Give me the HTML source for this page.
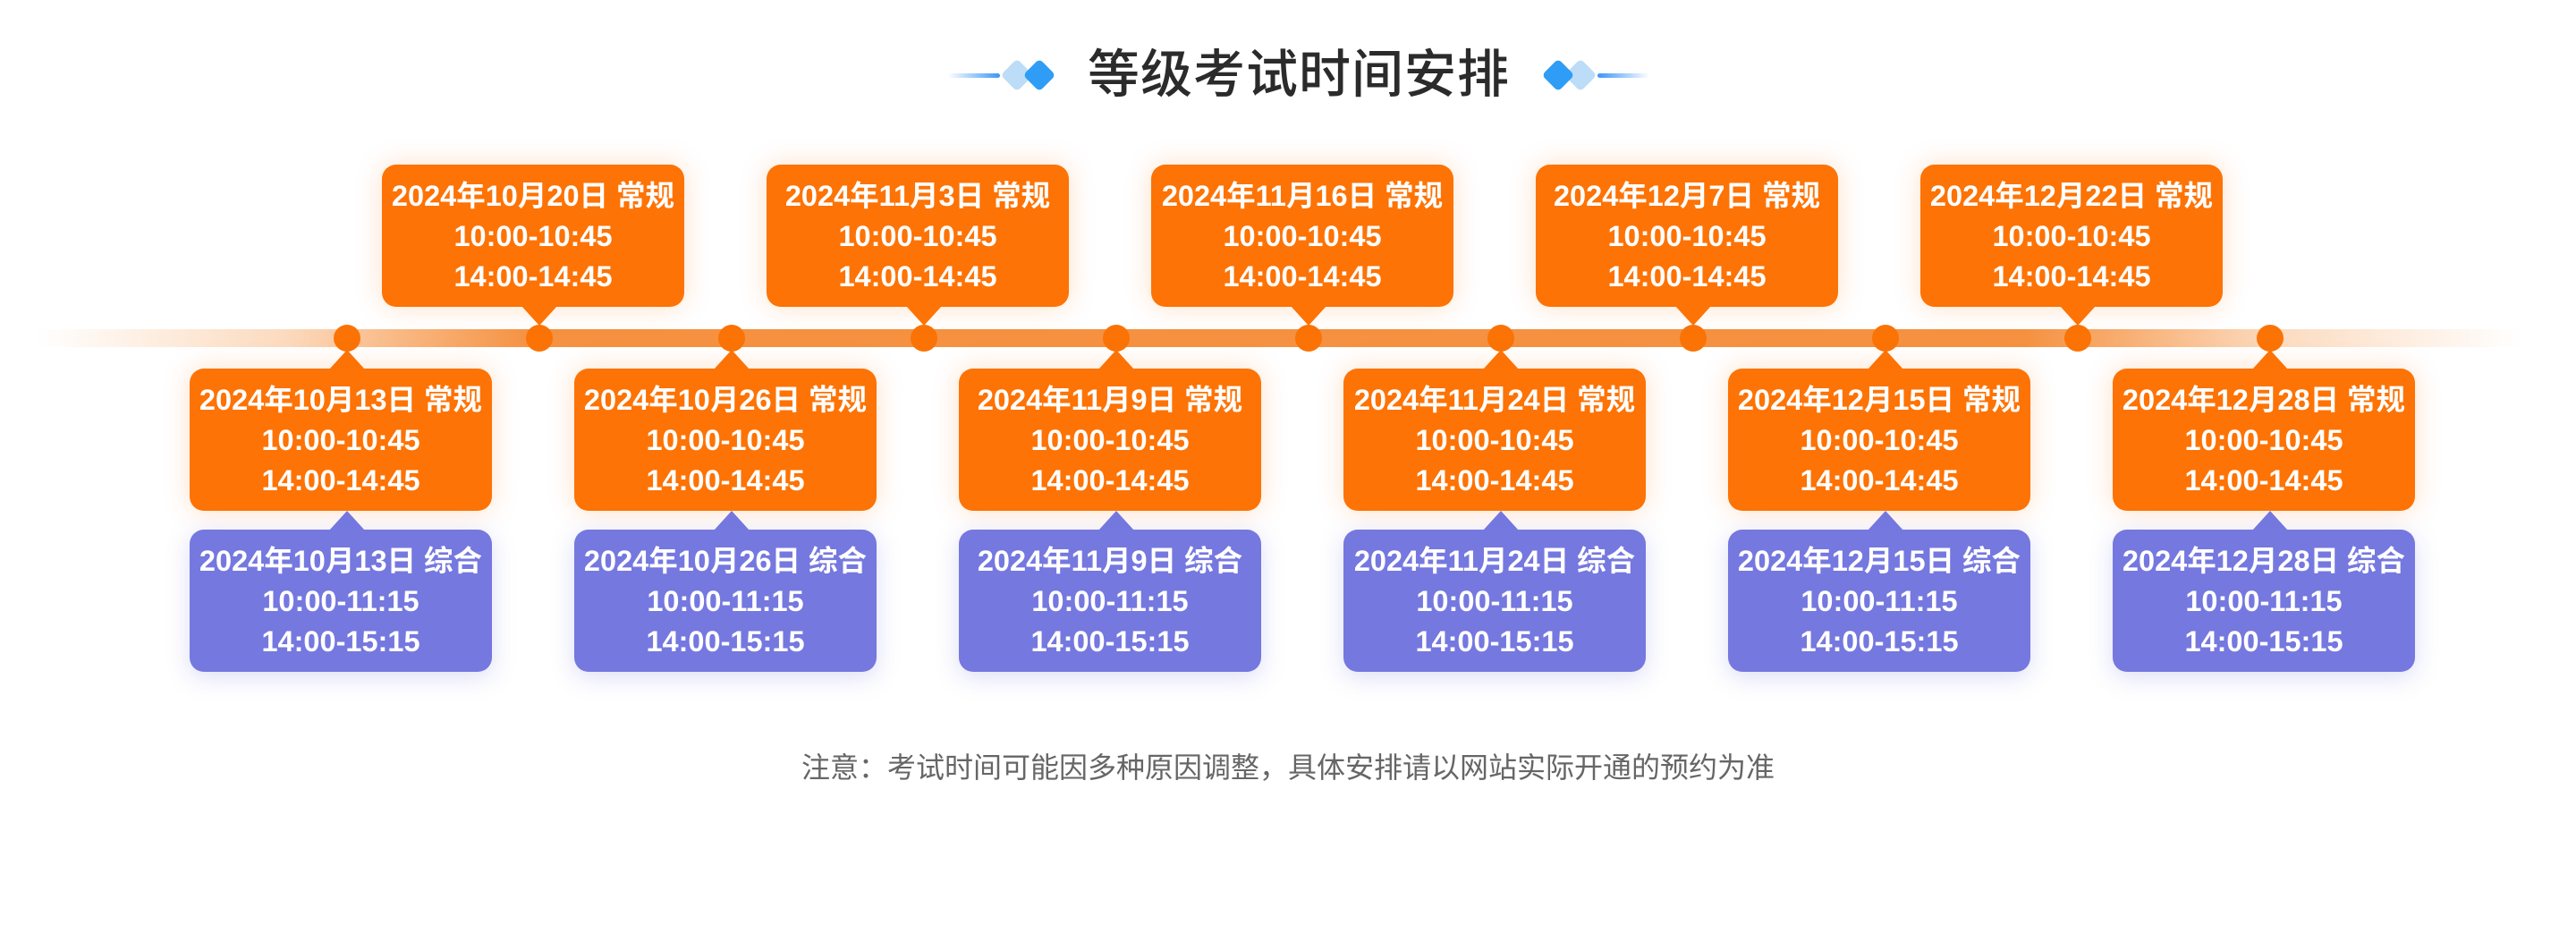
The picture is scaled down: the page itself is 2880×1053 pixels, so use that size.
<!DOCTYPE html>
<html><head><meta charset="utf-8"><style>
*{margin:0;padding:0;box-sizing:border-box}
body{width:2880px;height:1053px;background:#fff;position:relative;overflow:hidden;font-family:"Liberation Sans","Noto Sans CJK SC",sans-serif}
.t{position:absolute;left:0;top:55px;width:2904px;text-align:center;font-size:58px;font-weight:500;color:#2b2b2b;line-height:58px;letter-spacing:1px}
.ln{position:absolute;height:5px;top:82px;width:58px;border-radius:3px}
.dm{position:absolute;border-radius:5px;transform:rotate(45deg)}
.bar{position:absolute;left:40px;width:2780px;top:368px;height:20px;background:linear-gradient(90deg,rgba(246,150,70,0) 0%,rgba(246,150,70,.35) 10%,#f59140 20%,#f59140 80%,rgba(246,150,70,.35) 90%,rgba(246,150,70,0) 100%)}
.dot{position:absolute;top:363px;width:30px;height:30px;border-radius:50%;background:#fb7305}
.b{position:absolute;width:338px;height:159px;border-radius:16px;color:#fff;font-weight:bold;font-size:32.5px;text-align:center;padding-top:13px;line-height:45px}
.o{background:#fd7305;box-shadow:0 0 30px rgba(253,115,5,.22)}
.p{background:#7578df;box-shadow:0 6px 26px rgba(117,120,223,.25)}
.tri{position:absolute;width:0;height:0;border-left:20px solid transparent;border-right:20px solid transparent}
.note{position:absolute;left:0;width:2880px;top:840px;text-align:center;font-size:32px;color:#666;line-height:36px}
</style></head><body>
<div class="t">等级考试时间安排</div>
<div class="ln" style="left:1060px;background:linear-gradient(90deg,rgba(60,150,245,0),#3c96f5)"></div>
<div class="dm" style="left:1124px;top:71px;width:26px;height:26px;background:#bcdcf8"></div>
<div class="dm" style="left:1149px;top:71px;width:26px;height:26px;background:#2f9df5"></div>
<div class="dm" style="left:1729px;top:71px;width:26px;height:26px;background:#2f9df5"></div>
<div class="dm" style="left:1754px;top:71px;width:26px;height:26px;background:#bcdcf8;z-index:-1"></div>
<div class="ln" style="left:1786px;background:linear-gradient(90deg,#3c96f5,rgba(60,150,245,0))"></div>

<div class="bar"></div>

<div id="c"></div>
<script>
var up=[["2024年10月20日 常规"],["2024年11月3日 常规"],["2024年11月16日 常规"],["2024年12月7日 常规"],["2024年12月22日 常规"]];
var lo=["2024年10月13日","2024年10月26日","2024年11月9日","2024年11月24日","2024年12月15日","2024年12月28日"];
var h="";
for(var i=0;i<11;i++){
 var x=388+215*i;
 h+='<div class="dot" style="left:'+(x-15)+'px"></div>';
 var l=x-176;
 if(i%2==1){
  var t=up[(i-1)/2][0];
  h+='<div class="b o" style="left:'+l+'px;top:184px">'+t+'<br>10:00-10:45<br>14:00-14:45</div>';
  h+='<div class="tri" style="left:'+(x-20)+'px;top:342px;border-top:22px solid #fd7305"></div>';
 }else{
  var d=lo[i/2];
  h+='<div class="tri" style="left:'+(x-20)+'px;top:391px;border-bottom:22px solid #fd7305"></div>';
  h+='<div class="b o" style="left:'+l+'px;top:412px">'+d+' 常规<br>10:00-10:45<br>14:00-14:45</div>';
  h+='<div class="tri" style="left:'+(x-20)+'px;top:571px;border-bottom:22px solid #7578df"></div>';
  h+='<div class="b p" style="left:'+l+'px;top:592px">'+d+' 综合<br>10:00-11:15<br>14:00-15:15</div>';
 }
}
document.getElementById("c").innerHTML=h;
</script>
<div class="note">注意：考试时间可能因多种原因调整，具体安排请以网站实际开通的预约为准</div>
</body></html>
